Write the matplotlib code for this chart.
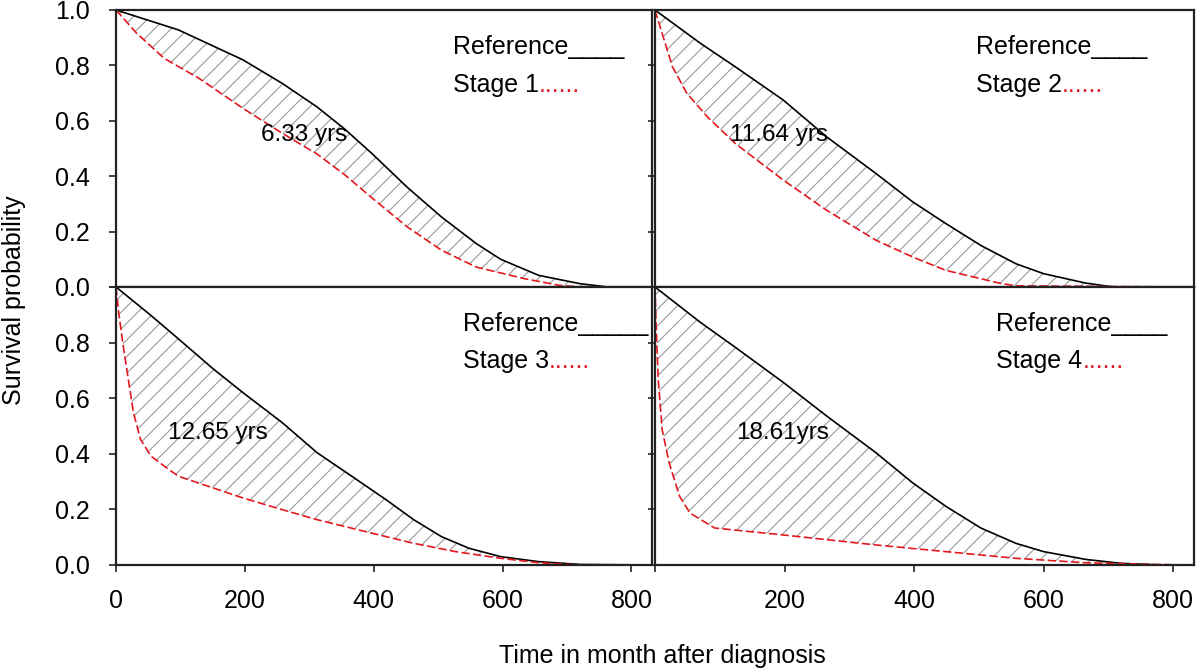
import numpy as np
import matplotlib
matplotlib.use('Agg')
from matplotlib import pyplot as plt

plt.rcParams['font.family'] = ['Liberation Sans', 'DejaVu Sans']
plt.rcParams['hatch.linewidth'] = 0.8

# Values: time in months, survival probability

# Stage 1 panel
ref1_t = [0, 97, 197, 258, 312, 355, 398, 452, 505, 559, 597, 656, 720, 763, 830]
ref1_s = [1.0, 0.928, 0.82, 0.735, 0.65, 0.57, 0.48, 0.36, 0.253, 0.157, 0.10, 0.042, 0.012, 0.0, 0.0]
st1_t = [0, 32, 75, 129, 197, 258, 312, 355, 398, 452, 505, 559, 634, 688, 720, 830]
st1_s = [1.0, 0.916, 0.825, 0.753, 0.645, 0.555, 0.48, 0.405, 0.32, 0.217, 0.133, 0.072, 0.03, 0.006, 0.0, 0.0]

# Stage 2 panel
ref2_t = [0, 70, 124, 198, 265, 341, 398, 449, 503, 557, 600, 665, 708, 830]
ref2_s = [1.0, 0.88, 0.795, 0.675, 0.542, 0.41, 0.307, 0.229, 0.15, 0.084, 0.048, 0.014, 0.0, 0.0]
st2_t = [0, 11, 27, 49, 81, 124, 198, 265, 341, 398, 449, 535, 560, 830]
st2_s = [1.0, 0.916, 0.795, 0.70, 0.614, 0.518, 0.386, 0.277, 0.169, 0.108, 0.06, 0.012, 0.004, 0.0]

# Stage 3 panel
ref3_t = [0, 54, 97, 151, 197, 258, 312, 366, 419, 462, 505, 548, 597, 656, 720, 830]
ref3_s = [1.0, 0.898, 0.813, 0.705, 0.62, 0.512, 0.404, 0.319, 0.235, 0.163, 0.102, 0.06, 0.03, 0.012, 0.002, 0.0]
st3_t = [0, 4, 11, 19, 27, 38, 54, 81, 97, 151, 197, 258, 312, 398, 462, 527, 597, 656, 720, 830]
st3_s = [1.0, 0.91, 0.79, 0.669, 0.548, 0.452, 0.392, 0.345, 0.319, 0.277, 0.241, 0.199, 0.163, 0.114, 0.078, 0.048, 0.024, 0.008, 0.0, 0.0]

# Stage 4 panel
ref4_t = [0, 70, 124, 198, 265, 341, 398, 449, 503, 557, 600, 665, 719, 780, 830]
ref4_s = [1.0, 0.873, 0.783, 0.657, 0.536, 0.404, 0.295, 0.211, 0.133, 0.078, 0.048, 0.02, 0.006, 0.0, 0.0]
st4_t = [0, 2, 5, 11, 22, 38, 54, 92, 198, 341, 449, 557, 665, 773, 830]
st4_s = [1.0, 0.85, 0.669, 0.488, 0.367, 0.247, 0.187, 0.133, 0.108, 0.072, 0.048, 0.024, 0.008, 0.002, 0.0]

gain_labels = ['6.33 yrs', '11.64 yrs', '12.65 yrs', '18.61yrs']
stage_names = ['Stage 1', 'Stage 2', 'Stage 3', 'Stage 4']
ref_names = ['Reference____', 'Reference____', 'Reference_____', 'Reference____']
x_ticks = [0, 200, 400, 600, 800]
y_ticks = [0.0, 0.2, 0.4, 0.6, 0.8, 1.0]

panels = [(ref1_t, ref1_s, st1_t, st1_s),
          (ref2_t, ref2_s, st2_t, st2_s),
          (ref3_t, ref3_s, st3_t, st3_s),
          (ref4_t, ref4_s, st4_t, st4_s)]

# layout of each panel: axes rect, gain label spot, legend spot (axes fraction)
rects = [[0.0967, 0.5723, 0.4467, 0.4128],
         [0.5458, 0.5723, 0.4492, 0.4128],
         [0.0967, 0.1580, 0.4467, 0.4143],
         [0.5458, 0.1580, 0.4492, 0.4143]]
gain_xy = [(292, 0.55), (191, 0.55), (158, 0.476), (197, 0.476)]
legend_x = [0.629, 0.596, 0.647, 0.633]
legend_y = [(0.841, 0.704), (0.841, 0.704), (0.842, 0.709), (0.842, 0.709)]

fig = plt.figure(figsize=(12, 6.71), dpi=100)
red = '#e3191f'
fs = 18

for i, (rt, rs, stt, sts) in enumerate(panels):
    ax = fig.add_axes(rects[i])

    # hatched area between reference and stage curve
    poly_x = np.r_[rt, stt[::-1]]
    poly_y = np.r_[rs, sts[::-1]]
    ax.fill(poly_x, poly_y, facecolor='none', edgecolor='#9a9a9a', hatch='//', linewidth=0)

    ax.plot(rt, rs, color='black', lw=1.2)
    ax.plot(stt, sts, color=red, lw=1.2, dashes=(5, 2))

    ax.set_xlim(0, 832)
    ax.set_ylim(0, 1.0)
    ax.set_xticks(x_ticks)
    ax.set_yticks(y_ticks)
    ax.tick_params(direction='out', length=5, width=1.2, labelsize=fs, color='#222222')
    ax.tick_params(axis='x', pad=12)
    ax.tick_params(axis='y', pad=14)
    for sp in ax.spines.values():
        sp.set_linewidth(1.6)
        sp.set_color('#222222')

    # tick labels only on the outer edges, as in the original
    if i < 2:
        ax.set_xticklabels([])
    elif i == 3:
        ax.set_xticklabels(['', '200', '400', '600', '800'])
    if i in (1, 3):
        ax.set_yticklabels([])
    elif i == 2:
        ax.set_yticklabels(['0.0', '0.2', '0.4', '0.6', '0.8', ''])
    else:
        ax.set_yticklabels(['0.0', '0.2', '0.4', '0.6', '0.8', '1.0'])

    ax.text(gain_xy[i][0], gain_xy[i][1], gain_labels[i], fontsize=17.5,
            ha='center', va='center')

    ax.text(legend_x[i], legend_y[i][0], ref_names[i], transform=ax.transAxes,
            fontsize=fs, va='baseline')
    st = ax.text(legend_x[i], legend_y[i][1], stage_names[i], transform=ax.transAxes,
                 fontsize=fs, va='baseline')
    ax.annotate('......', xy=(1, 0), xycoords=st, fontsize=fs, color=red,
                va='bottom', ha='left')

fig.text(0.012, 0.553, 'Survival probability', rotation=90, fontsize=fs,
         ha='center', va='center')
fig.text(0.552, 0.022, 'Time in month after diagnosis', fontsize=fs,
         ha='center', va='center')

fig.savefig('out.png', dpi=100)
